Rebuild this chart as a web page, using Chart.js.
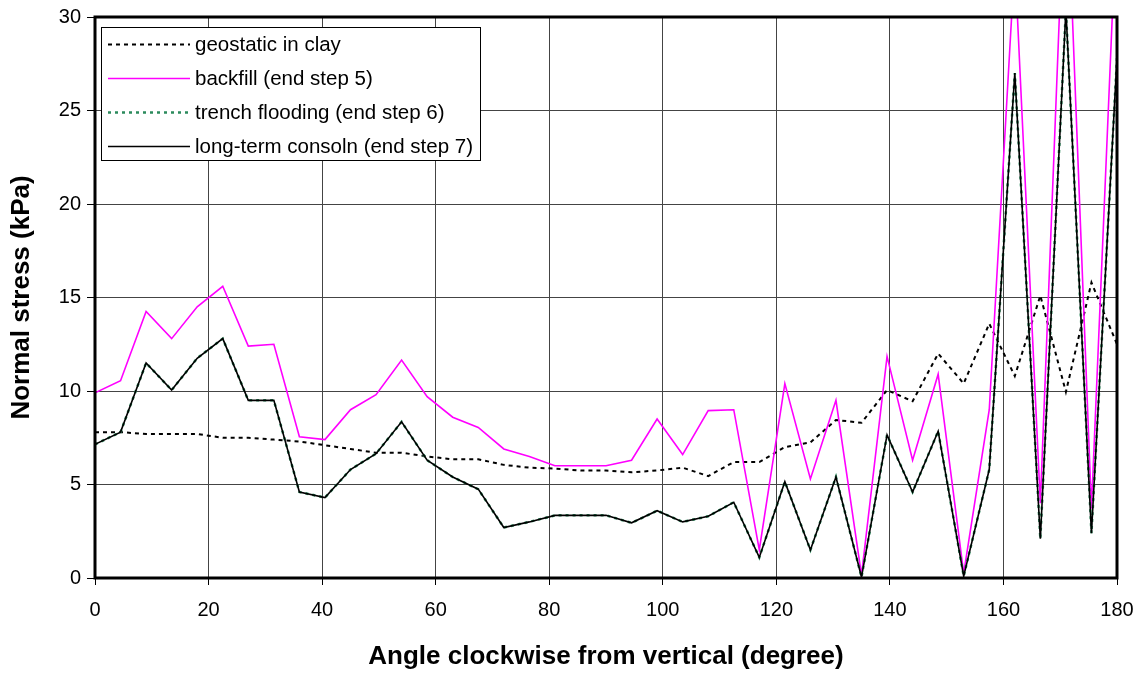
<!DOCTYPE html>
<html>
<head>
<meta charset="utf-8">
<script src="https://cdn.jsdelivr.net/npm/chart.js@4.4.1/dist/chart.umd.min.js"></script>
<style>
  html, body { margin: 0; padding: 0; background: #fff; }
  #wrap { width: 1144px; height: 673px; position: relative; }
</style>
</head>
<body>
<div id="wrap"><canvas id="stressChart"></canvas></div>
<script>
// angle clockwise from vertical (degrees)
const angles = [0, 4.5, 9, 13.5, 18, 22.5, 27, 31.5, 36, 40.5, 45, 49.5, 54, 58.5, 63, 67.5,
    72, 76.5, 81, 85.5, 90, 94.5, 99, 103.5, 108, 112.5, 117, 121.5, 126, 130.5, 135,
    139.5, 144, 148.5, 153, 157.5, 162, 166.5, 171, 175.5, 180];

// normal stress (kPa)
const geostatic = [7.8, 7.8, 7.7, 7.7, 7.7, 7.5, 7.5, 7.4, 7.3, 7.1, 6.9, 6.7, 6.7, 6.5, 6.35, 6.35,
    6.05, 5.9, 5.85, 5.75, 5.75, 5.65, 5.75, 5.9, 5.45, 6.2, 6.2, 7.0, 7.25, 8.45, 8.3,
    10.05, 9.45, 12.0, 10.4, 13.6, 10.8, 15.1, 9.95, 15.8, 12.5];
const backfill = [9.9, 10.55, 14.25, 12.8, 14.5, 15.6, 12.4, 12.5, 7.55, 7.4, 9.0, 9.8, 11.65, 9.7, 8.6, 8.05,
    6.9, 6.5, 6.0, 6.0, 6.0, 6.3, 8.5, 6.6, 8.95, 9.0, 1.5, 10.4, 5.3, 9.5, 0.15,
    11.85, 6.3, 10.9, 0.25, 9.0, 33, 4.0, 39, 3.7, 36];
const flooding = [7.15, 7.8, 11.5, 10.05, 11.75, 12.8, 9.5, 9.5, 4.6, 4.3, 5.8, 6.65, 8.35, 6.3, 5.4, 4.75,
    2.7, 3.0, 3.35, 3.35, 3.35, 2.95, 3.6, 3.0, 3.3, 4.05, 1.1, 5.15, 1.5, 5.4, 0.05,
    7.65, 4.6, 7.85, 0.1, 5.8, 27.0, 2.1, 30.4, 2.4, 27.8];
const consoln = [7.15, 7.8, 11.5, 10.05, 11.75, 12.8, 9.5, 9.5, 4.6, 4.3, 5.8, 6.65, 8.35, 6.3, 5.4, 4.75,
    2.7, 3.0, 3.35, 3.35, 3.35, 2.95, 3.6, 3.0, 3.3, 4.05, 1.1, 5.15, 1.5, 5.4, 0.05,
    7.65, 4.6, 7.85, 0.1, 5.8, 27.0, 2.1, 30.4, 2.4, 27.8];

const seriesNames = ['geostatic in clay', 'backfill (end step 5)',
    'trench flooding (end step 6)', 'long-term consoln (end step 7)'];

const FONT = 'Arial, "Liberation Sans", sans-serif';
const pts = vals => angles.map((a, i) => ({ x: a, y: vals[i] }));

// legend box drawn inside the plot, like the spreadsheet original
const boxLegend = {
    id: 'boxLegend',
    afterDraw(chart) {
        const ctx = chart.ctx;
        const x0 = 101.5, y0 = 27.5, w = 379, h = 133;
        ctx.save();
        ctx.fillStyle = '#fff';
        ctx.fillRect(x0, y0, w, h);
        ctx.strokeStyle = '#000';
        ctx.lineWidth = 1;
        ctx.strokeRect(x0, y0, w, h);
        ctx.font = '20.5px ' + FONT;
        ctx.textBaseline = 'middle';
        ctx.textAlign = 'left';
        chart.data.datasets.forEach((ds, i) => {
            const y = 44.5 + i * 34;
            ctx.beginPath();
            ctx.setLineDash(ds.borderDash || []);
            ctx.strokeStyle = ds.borderColor;
            ctx.lineWidth = ds.borderWidth;
            ctx.moveTo(108, y);
            ctx.lineTo(190, y);
            ctx.stroke();
            ctx.setLineDash([]);
            ctx.fillStyle = '#000';
            ctx.fillText(ds.label, 195, y + 1);
        });
        ctx.restore();
    }
};

// heavy frame round the plot area
const plotFrame = {
    id: 'plotFrame',
    afterDatasetsDraw(chart) {
        const { left, top, right, bottom } = chart.chartArea;
        const ctx = chart.ctx;
        ctx.save();
        ctx.strokeStyle = '#000';
        ctx.lineWidth = 3;
        ctx.strokeRect(left, top, right - left, bottom - top);
        ctx.restore();
    }
};

const ctx = document.getElementById('stressChart').getContext('2d');

new Chart(ctx, {
    type: 'line',
    data: {
        datasets: [
            { label: seriesNames[0], data: pts(geostatic), borderColor: '#000', borderWidth: 2,
              borderDash: [4, 4], order: 4 },
            { label: seriesNames[1], data: pts(backfill), borderColor: '#ff00ff', borderWidth: 1.6, order: 3 },
            { label: seriesNames[2], data: pts(flooding), borderColor: '#2b8a5c', borderWidth: 2.5,
              borderDash: [3, 4], order: 2 },
            { label: seriesNames[3], data: pts(consoln), borderColor: '#000', borderWidth: 1.6, order: 1 }
        ]
    },
    options: {
        responsive: true,
        maintainAspectRatio: false,
        animation: false,
        elements: { point: { radius: 0 }, line: { tension: 0 } },
        layout: { padding: { top: 17, right: 27, left: 0, bottom: 0 } },
        plugins: { legend: { display: false }, tooltip: { enabled: false } },
        scales: {
            x: {
                type: 'linear', min: 0, max: 180,
                afterFit: s => { s.height = 95; s.paddingLeft = 0; s.paddingRight = 0; },
                ticks: { stepSize: 20, color: '#000', padding: 13,
                         font: { family: FONT, size: 20 } },
                grid: { color: '#444', lineWidth: 1, tickLength: 7, tickColor: '#000' },
                border: { display: false },
                title: { display: true, text: 'Angle clockwise from vertical (degree)', color: '#000',
                         padding: { top: 0, bottom: 1 },
                         font: { family: FONT, size: 26, weight: 'bold' } }
            },
            y: {
                min: 0, max: 30,
                afterFit: s => { s.width = 95; s.paddingTop = 0; s.paddingBottom = 0; },
                ticks: { stepSize: 5, color: '#000', padding: 6,
                         font: { family: FONT, size: 20 } },
                grid: { color: '#444', lineWidth: 1, tickLength: 8, tickColor: '#000' },
                border: { display: false },
                title: { display: true, text: 'Normal stress (kPa)', color: '#000',
                         padding: { top: 6, bottom: 0 },
                         font: { family: FONT, size: 26, weight: 'bold' } }
            }
        }
    },
    plugins: [plotFrame, boxLegend]
});
</script>
</body>
</html>
